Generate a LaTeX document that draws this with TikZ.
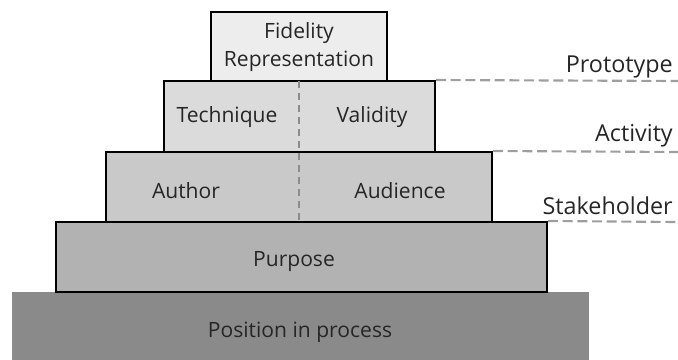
\documentclass[tikz,border=0pt]{standalone}
\usepackage{fontspec}
\setmainfont{Open Sans}
\begin{document}
\begin{tikzpicture}[x=0.75pt,y=-0.75pt,
  box/.style={draw=black,line width=1.5pt,rectangle,inner sep=0pt},
  lbl/.style={text=black!85,font=\fontsize{15.8}{18}\selectfont,inner sep=0pt},
  sidelbl/.style={text=black!85,font=\fontsize{17.5}{20}\selectfont,inner sep=0pt,anchor=east},
  guide/.style={draw=black!38,line width=1.6pt,dash pattern=on 7.5pt off 3.5pt}]
\useasboundingbox (0,0) rectangle (678,360);
\begin{scope}
\clip (0,0) rectangle (678,360);
\fill[black!46] (12,292) rectangle (589,370);
\end{scope}
\node[box,fill=black!30,minimum width={491*0.75pt},minimum height={70*0.75pt}] (purpose) at (301.5,257) {};
\node[box,fill=black!21,minimum width={386*0.75pt},minimum height={70*0.75pt}] (stake) at (299,187) {};
\node[box,fill=black!14,minimum width={271*0.75pt},minimum height={71*0.75pt}] (act) at (299.5,116.5) {};
\node[box,fill=black!7,minimum width={176*0.75pt},minimum height={69*0.75pt}] (proto) at (299,46.5) {};
\coordinate (dtop) at (299,81);
\coordinate (dbot) at (299,222);
\draw[draw=black!45,line width=1pt,dash pattern=on 5pt off 4pt] (dtop) -- (dbot);
\node[lbl] (fid) at (299,33) {Fidelity};
\node[lbl] (rep) at (299,61) {Representation};
\node[lbl] (tech) at (227,117) {Technique};
\node[lbl] (val) at (372,117) {Validity};
\node[lbl] (auth) at (186,191) {Author};
\node[lbl] (aud) at (400,191) {Audience};
\node[lbl] (purp) at (294,262) {Purpose};
\node[lbl] (pos) at (300,332) {Position in process};
\node[sidelbl] (lproto) at (673,67) {Prototype};
\node[sidelbl] (lact) at (673,136) {Activity};
\node[sidelbl] (lstake) at (673,206) {Stakeholder};
\coordinate (e1) at (678,81);
\coordinate (e2) at (678,152);
\coordinate (e3) at (678,222);
\draw[guide] (act.north east) -- (e1);
\draw[guide] (stake.north east) -- (e2);
\draw[guide] (purpose.north east) -- (e3);
\end{tikzpicture}
\end{document}
